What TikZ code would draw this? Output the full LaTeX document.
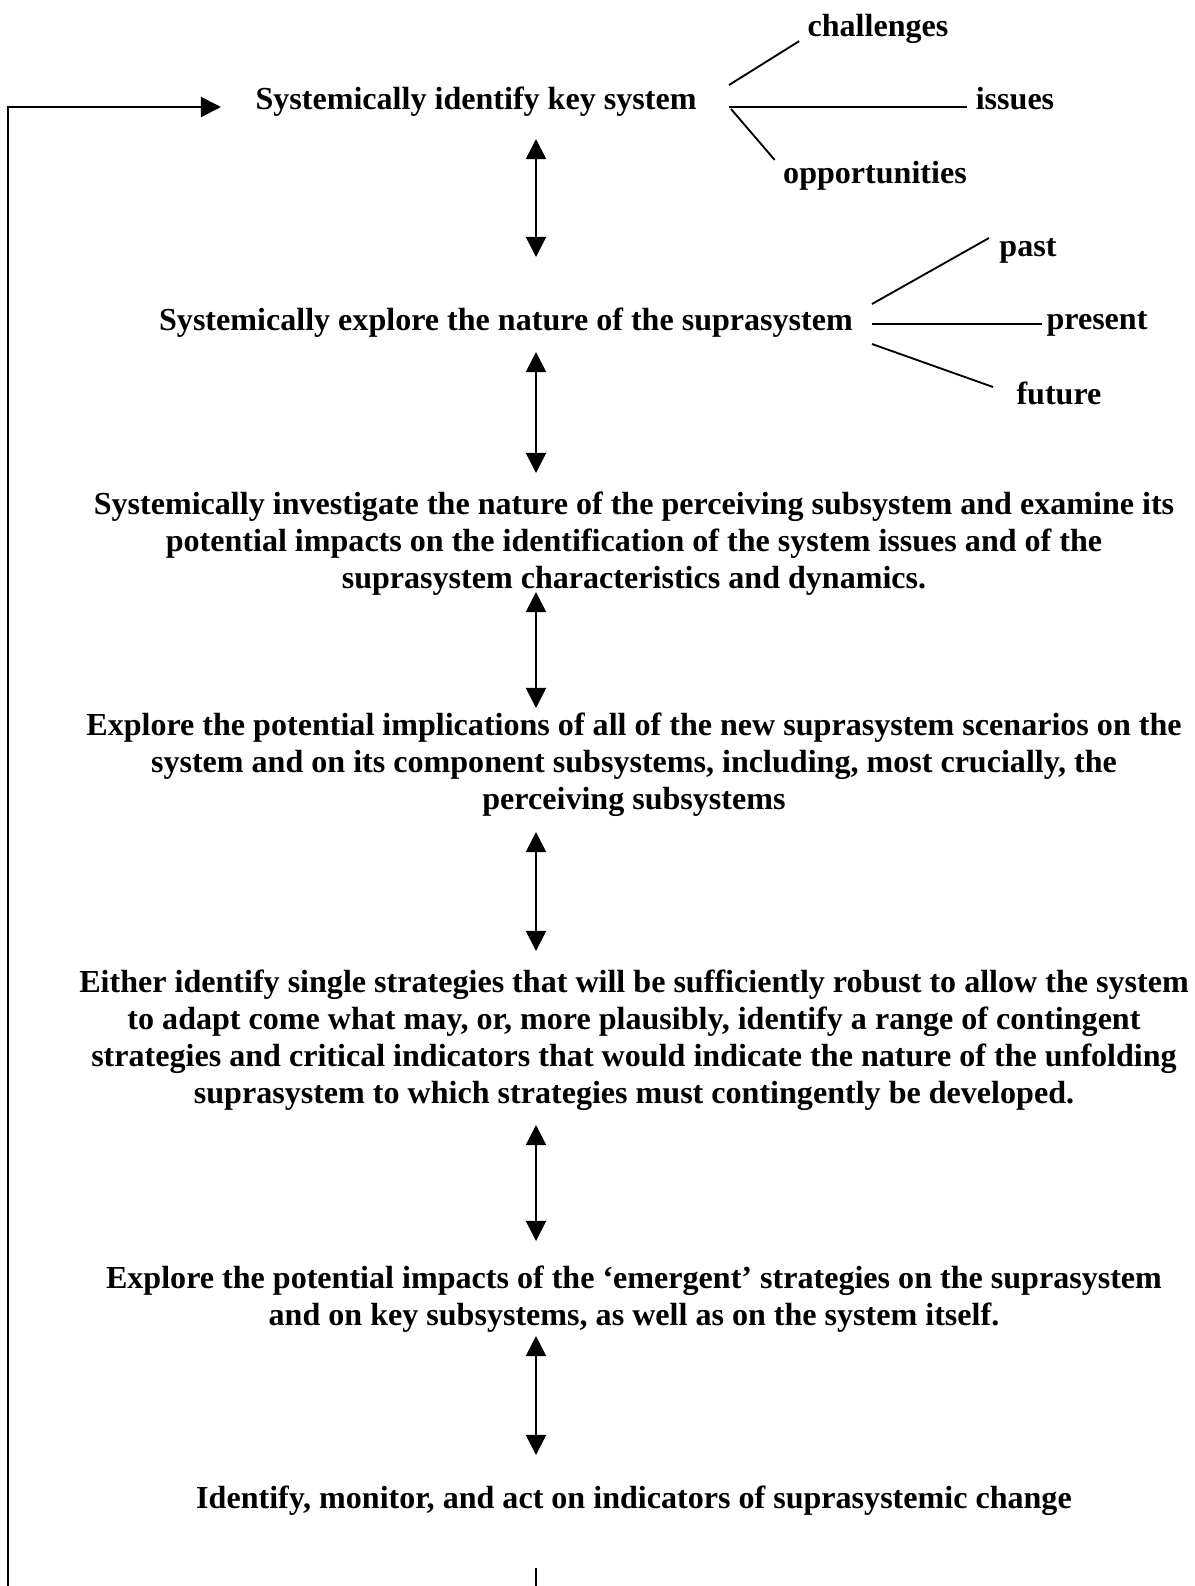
\documentclass[tikz,border=0pt]{standalone}
\usepackage{fontspec}
\setmainfont{Liberation Serif}
\usetikzlibrary{arrows.meta}
\begin{document}
\begin{tikzpicture}[x=0.3788pt,y=-0.3788pt,
  step text/.style={font=\bfseries\fontsize{12.15}{13.97}\selectfont, inner sep=0pt, align=center},
  branch label/.style={font=\bfseries\fontsize{12.15}{13.97}\selectfont, inner sep=0pt},
  conn/.style={line width=0.7pt},
  both ways/.style={conn, {Triangle[length=7.6pt,width=7.6pt]}-{Triangle[length=7.6pt,width=7.6pt]}},
  one way/.style={conn, -{Triangle[length=7.6pt,width=7.6pt]}}]
\useasboundingbox (0,0) rectangle (1194,1586);
\clip (0,0) rectangle (1194,1586);

% steps of the cycle
\node[step text] (n1) at (476,102) {Systemically identify key system};
\node[step text] (n2) at (506,323) {Systemically explore the nature of the suprasystem};
\node[step text] (n3) at (634,544) {Systemically investigate the nature of the perceiving subsystem and examine its\\
potential impacts on the identification of the system issues and of the\\
suprasystem characteristics and dynamics.};
\node[step text] (n4) at (634,765) {Explore the potential implications of all of the new suprasystem scenarios on the\\
system and on its component subsystems, including, most crucially, the\\
perceiving subsystems};
\node[step text] (n5) at (634,1040) {Either identify single strategies that will be sufficiently robust to allow the system\\
to adapt come what may, or, more plausibly, identify a range of contingent\\
strategies and critical indicators that would indicate the nature of the unfolding\\
suprasystem to which strategies must contingently be developed.};
\node[step text] (n6) at (634,1299) {Explore the potential impacts of the `emergent' strategies on the suprasystem\\
and on key subsystems, as well as on the system itself.};
\node[step text] (n7) at (634,1501) {Identify, monitor, and act on indicators of suprasystemic change};

% branch labels
\node[branch label] (ch)   at (878,29)   {challenges};
\node[branch label] (iss)  at (1015,99)  {issues};
\node[branch label] (opp)  at (875,176)  {opportunities};
\node[branch label] (past) at (1028,251) {past};
\node[branch label] (pres) at (1097,324) {present};
\node[branch label] (fut)  at (1059,393) {future};

% branch roots
\coordinate (r1a) at (729,85);
\coordinate (r1b) at (729,107);
\coordinate (r1c) at (731,109);
\coordinate (r2a) at (872,304);
\coordinate (r2b) at (872,324);
\coordinate (r2c) at (872,344);

\draw[conn] (r1a) -- ([shift={(-8,-3)}]ch.south west);
\draw[conn] ([shift={(-8,0)}]iss.west |- r1b) -- (r1b);
\draw[conn] (r1c) -- ([shift={(-8,-1)}]opp.north west);
\draw[conn] (r2a) -- ([shift={(-10,0)}]past.north west);
\draw[conn] ([shift={(-4,0)}]pres.west |- r2b) -- (r2b);
\draw[conn] (r2c) -- ([shift={(-23,-6)}]fut.west);

% two-way links between steps
\coordinate (a1t) at (536,139);  \coordinate (a1b) at (536,257);
\coordinate (a2t) at (536,352);  \coordinate (a2b) at (536,473);
\coordinate (a3t) at (536,592);  \coordinate (a3b) at (536,708);
\coordinate (a4t) at (536,832);  \coordinate (a4b) at (536,951);
\coordinate (a5t) at (536,1125); \coordinate (a5b) at (536,1241);
\coordinate (a6t) at (536,1336); \coordinate (a6b) at (536,1455);
\draw[both ways] (a1t) -- (a1b);
\draw[both ways] (a2t) -- (a2b);
\draw[both ways] (a3t) -- (a3b);
\draw[both ways] (a4t) -- (a4b);
\draw[both ways] (a5t) -- (a5b);
\draw[both ways] (a6t) -- (a6b);

% feedback loop back to the first step
\coordinate (loopstart) at (536,1568);
\coordinate (loopfloor) at (8,1640);
\coordinate (loopin) at (8,107);
\draw[one way] (loopstart) -- (loopstart |- loopfloor) -- (loopfloor) -- (loopin) -- ([shift={(-34,0)}]n1.west |- loopin);
\end{tikzpicture}
\end{document}
